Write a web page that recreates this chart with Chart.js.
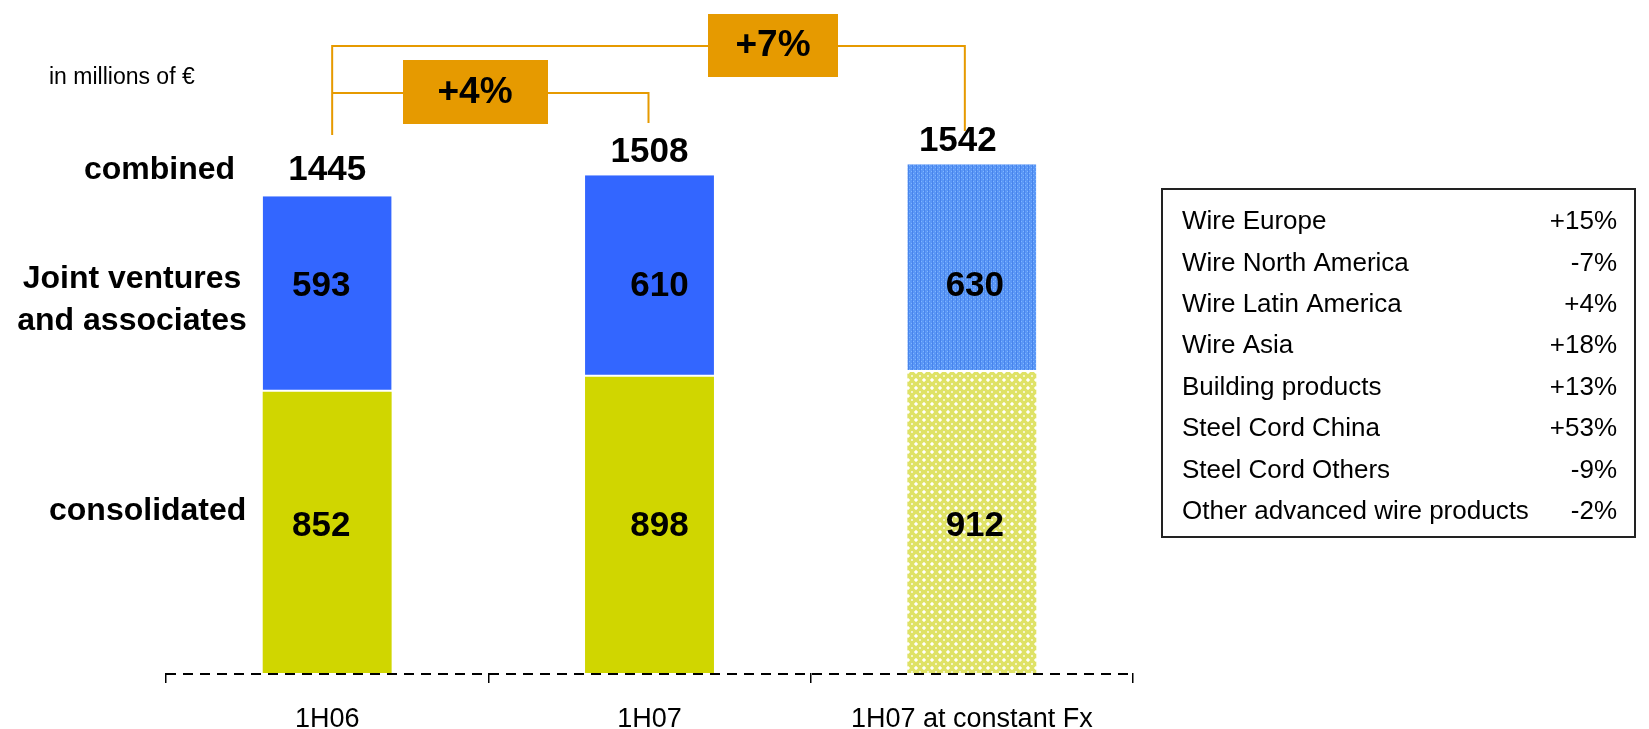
<!DOCTYPE html>
<html>
<head>
<meta charset="utf-8">
<script src="https://cdn.jsdelivr.net/npm/chart.js@4.4.1/dist/chart.umd.min.js"></script>
<style>
  html, body { margin: 0; padding: 0; background: #fff; }
</style>
</head>
<body>
<canvas id="chart" width="1649" height="729"></canvas>
<script>
// data
const periods = ["1H06", "1H07", "1H07 at constant Fx"];
const consolidated = [852, 898, 912];
const jointVentures = [593, 610, 630];
const combined = [1445, 1508, 1542];
const growth = ["+4%", "+7%"];
const segments = [
  "Wire Europe", "Wire North America", "Wire Latin America", "Wire Asia",
  "Building products", "Steel Cord China", "Steel Cord Others", "Other advanced wire products"
];
const segmentGrowth = ["+15%", "-7%", "+4%", "+18%", "+13%", "+53%", "-9%", "-2%"];

const FONT = "'Liberation Sans', Arial, Helvetica, sans-serif";
const BLUE = "#3366ff";
const YELLOW = "#d0d600";
const ORANGE = "#e69a00";

// hatched fills for the constant-Fx bar
function bluePattern() {
  const c = document.createElement("canvas");
  c.width = 4; c.height = 4;
  const g = c.getContext("2d");
  g.fillStyle = "#5a97f6";
  g.fillRect(0, 0, 4, 4);
  g.fillStyle = "#80b6ff";
  g.fillRect(1, 1, 1, 1);
  g.fillRect(3, 3, 1, 1);
  g.fillStyle = "#4884ec";
  g.fillRect(0, 0, 1, 4);
  return g.createPattern(c, "repeat");
}

function yellowPattern() {
  const c = document.createElement("canvas");
  c.width = 8; c.height = 8;
  const g = c.getContext("2d");
  g.fillStyle = "#dfe266";
  g.fillRect(0, 0, 8, 8);
  g.fillStyle = "#f4f5c8";
  g.fillRect(2, 3, 4, 2);
  g.fillRect(3, 2, 2, 4);
  g.fillRect(0, 7, 1, 1); g.fillRect(7, 0, 1, 1);
  g.fillRect(7, 7, 1, 1); g.fillRect(0, 0, 1, 1);
  g.fillStyle = "#ffffff";
  g.fillRect(3, 3, 2, 2);
  return g.createPattern(c, "repeat");
}

// small hand tweaks so the labels sit where the original slide put them
const innerShift = [-6, 10, 3];
const totalShift = [0, 0, -14];
const totalLift = [26, 23, 23];

const overlay = {
  id: "overlay",
  beforeDatasetsDraw(chart) {
    // dashed category axis
    const ctx = chart.ctx;
    const area = chart.chartArea;
    ctx.save();
    ctx.strokeStyle = "#000";
    ctx.lineWidth = 2;
    ctx.setLineDash([10, 7]);
    ctx.beginPath();
    ctx.moveTo(area.left, area.bottom + 1);
    ctx.lineTo(area.right, area.bottom + 1);
    ctx.stroke();
    ctx.restore();
  },
  afterDatasetsDraw(chart) {
    const ctx = chart.ctx;
    const high = chart.getDatasetMeta(1).data;
    ctx.save();
    ctx.fillStyle = "#000";
    ctx.textAlign = "center";
    ctx.textBaseline = "middle";
    ctx.font = "bold 35px " + FONT;
    high.forEach((bar, i) => {
      ctx.fillText(consolidated[i], bar.x + innerShift[i], 526);
      ctx.fillText(jointVentures[i], bar.x + innerShift[i], 286);
      ctx.fillText(combined[i], bar.x + totalShift[i], bar.y - totalLift[i]);
    });
    ctx.restore();
  },
  afterDraw(chart) {
    const ctx = chart.ctx;
    const xs = chart.getDatasetMeta(1).data.map(b => b.x);
    ctx.save();

    // row labels on the left
    ctx.fillStyle = "#000";
    ctx.textBaseline = "middle";
    ctx.font = "bold 32px " + FONT;
    ctx.textAlign = "left";
    ctx.fillText("combined", 84, 170);
    ctx.fillText("consolidated", 49, 511);
    ctx.textAlign = "center";
    ctx.fillText("Joint ventures", 132, 279);
    ctx.fillText("and associates", 132, 321);

    ctx.textAlign = "left";
    ctx.font = "23px " + FONT;
    ctx.fillText("in millions of \u20ac", 49, 78);

    // growth brackets
    const left = xs[0] + 5;
    ctx.strokeStyle = ORANGE;
    ctx.lineWidth = 2;
    ctx.beginPath();
    ctx.moveTo(left, 135); ctx.lineTo(left, 46);
    ctx.lineTo(xs[2] - 7, 46); ctx.lineTo(xs[2] - 7, 131);
    ctx.moveTo(left, 93); ctx.lineTo(xs[1] - 1, 93); ctx.lineTo(xs[1] - 1, 123);
    ctx.stroke();

    ctx.fillStyle = ORANGE;
    ctx.fillRect(403, 60, 145, 64);
    ctx.fillRect(708, 14, 130, 63);
    ctx.fillStyle = "#000";
    ctx.textAlign = "center";
    ctx.font = "bold 37px " + FONT;
    ctx.fillText(growth[0], 475, 93);
    ctx.fillText(growth[1], 773, 46);

    // segment table
    ctx.strokeStyle = "#222";
    ctx.lineWidth = 2;
    ctx.strokeRect(1162, 189, 473, 348);
    ctx.font = "26px " + FONT;
    segments.forEach((name, i) => {
      const y = 222 + i * 41.4;
      ctx.textAlign = "left";
      ctx.fillText(name, 1182, y);
      ctx.textAlign = "right";
      ctx.fillText(segmentGrowth[i], 1617, y);
    });

    ctx.restore();
  }
};

const ctx = document.getElementById("chart").getContext("2d");

new Chart(ctx, {
  type: "bar",
  data: {
    labels: periods,
    datasets: [
      {
        label: "consolidated",
        data: consolidated,
        backgroundColor: [YELLOW, YELLOW, yellowPattern()],
        borderWidth: 0,
      },
      {
        label: "Joint ventures and associates",
        data: jointVentures,
        backgroundColor: [BLUE, BLUE, bluePattern()],
        borderColor: "#ffffff",
        borderWidth: { bottom: 2 },
        borderSkipped: false,
      },
    ],
  },
  options: {
    responsive: false,
    animation: false,
    devicePixelRatio: 1,
    categoryPercentage: 1,
    barPercentage: 0.4,
    layout: { padding: { left: 166, right: 516, top: 13, bottom: 0 } },
    plugins: {
      legend: { display: false },
      tooltip: { enabled: false },
    },
    scales: {
      x: {
        stacked: true,
        offset: true,
        border: { display: false },
        grid: {
          offset: true,
          drawOnChartArea: false,
          drawTicks: true,
          tickLength: 10,
          color: "#000",
          lineWidth: 1.5,
        },
        ticks: {
          color: "#000",
          font: { family: FONT, size: 27 },
          padding: 20,
          maxRotation: 0,
          autoSkip: false,
        },
        afterFit: (scale) => { scale.height = 56; },
      },
      y: {
        stacked: true,
        display: false,
        min: 0,
        max: 2000,
      },
    },
  },
  plugins: [overlay],
});
</script>
</body>
</html>
